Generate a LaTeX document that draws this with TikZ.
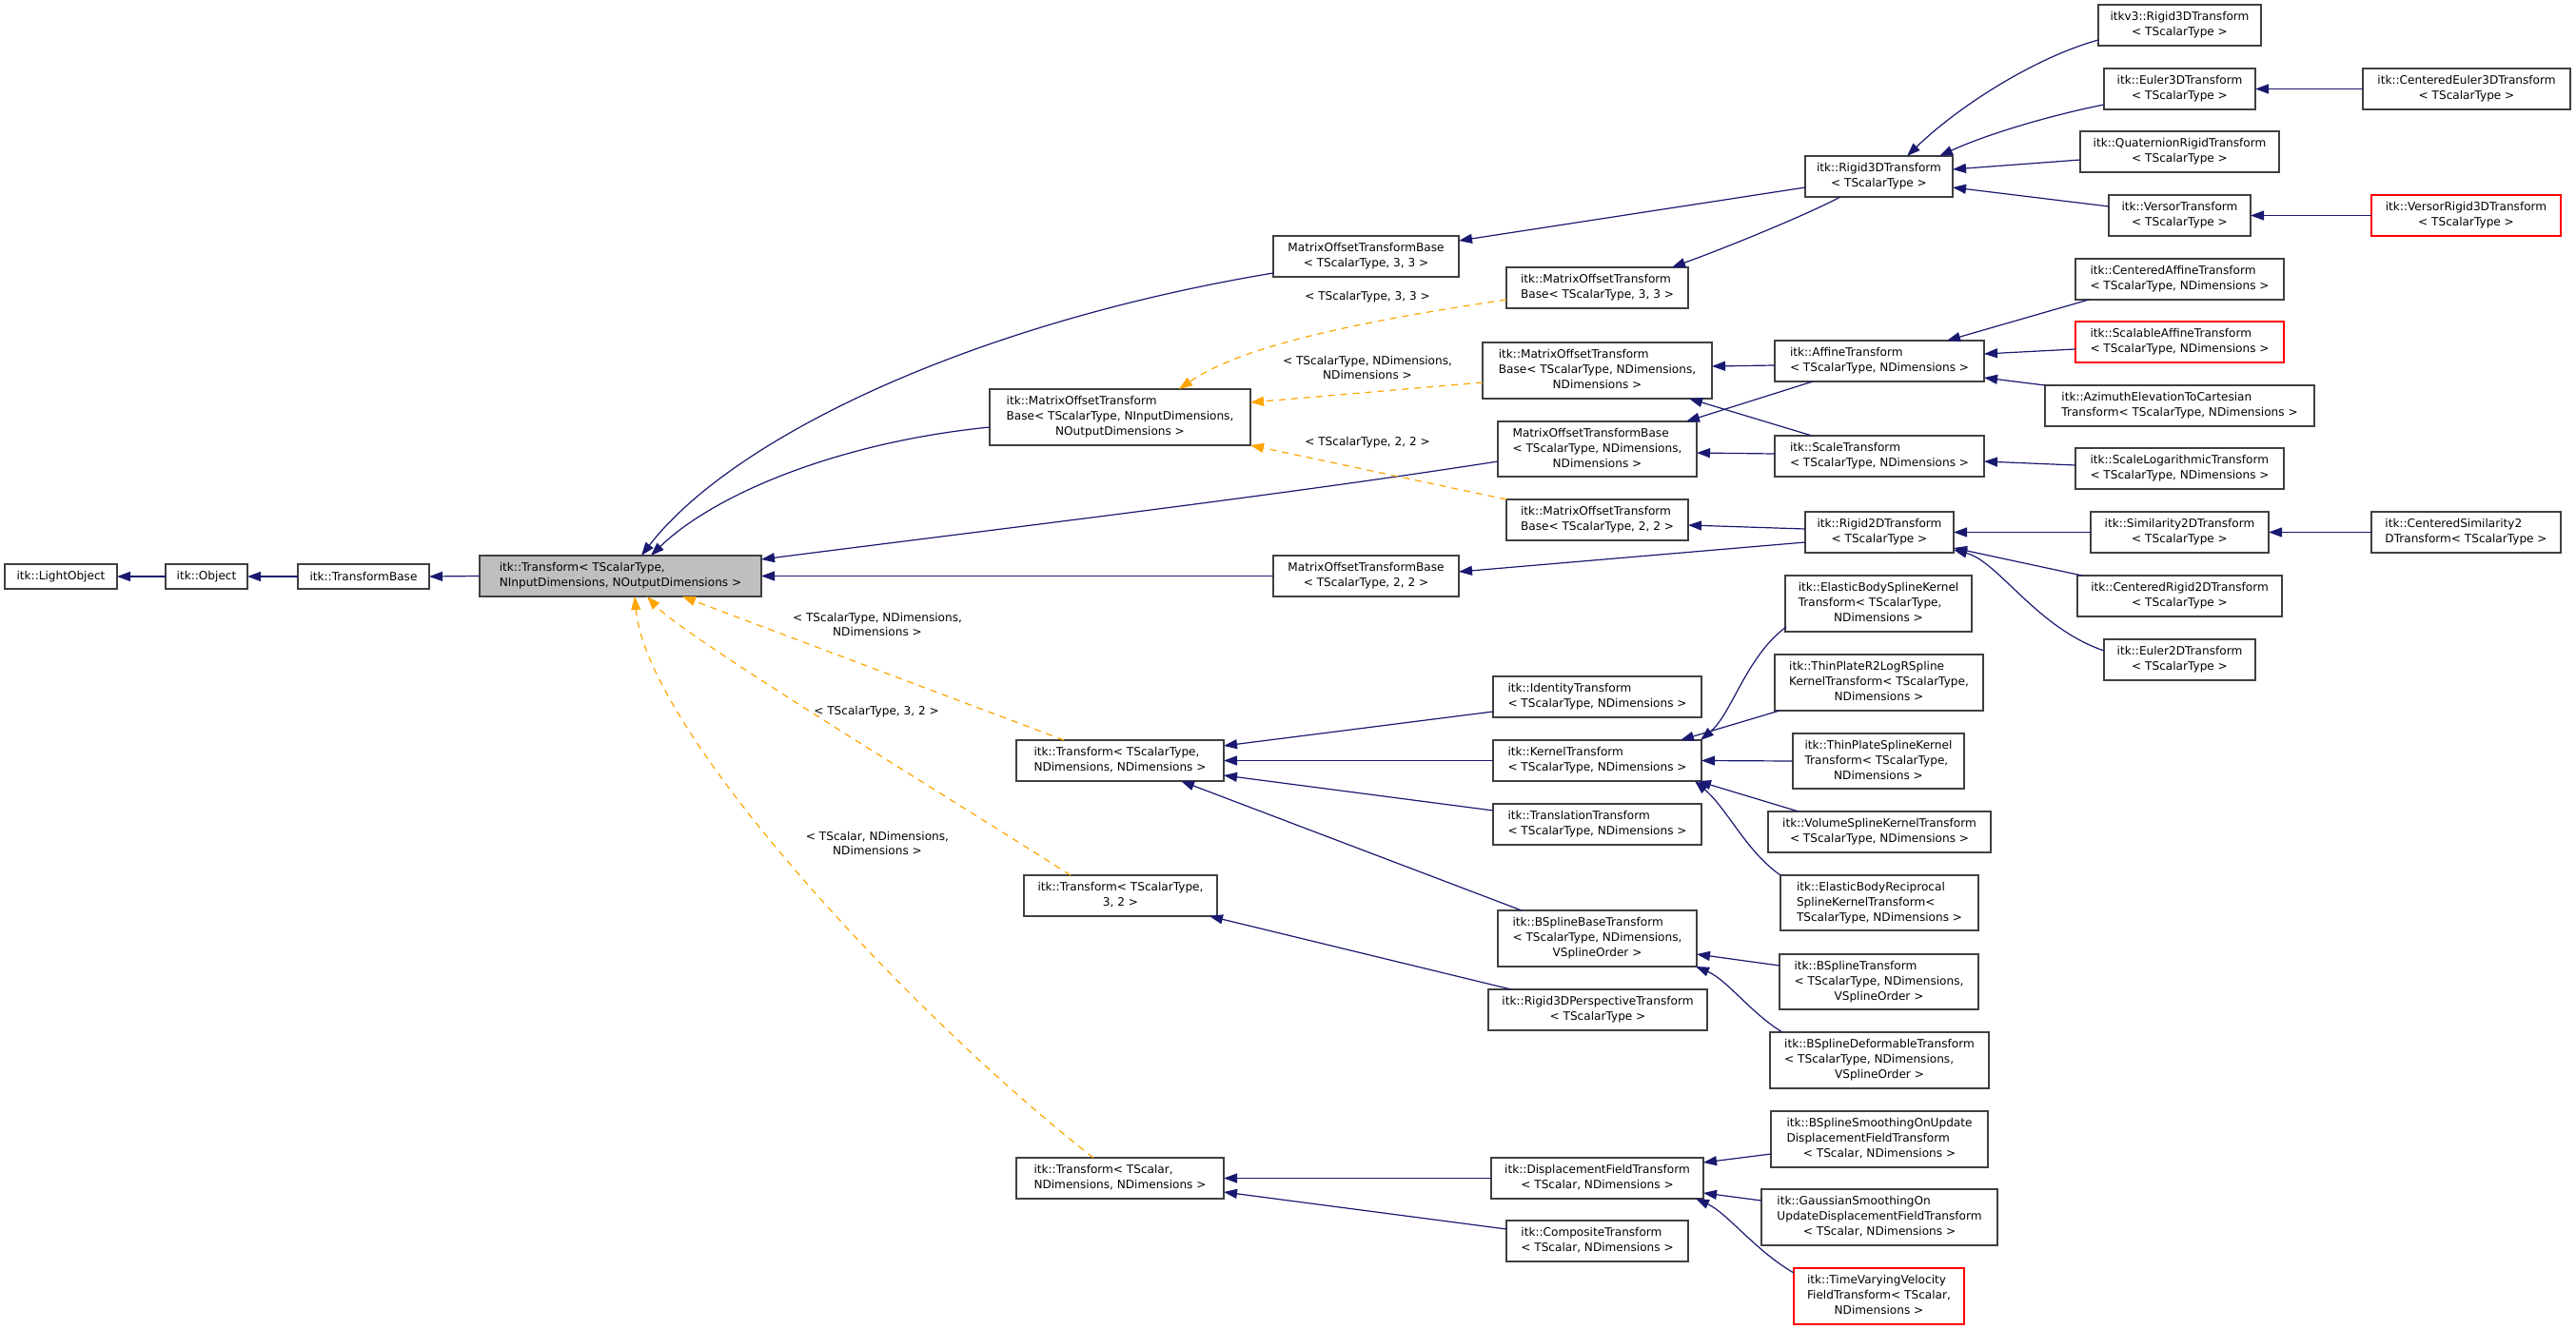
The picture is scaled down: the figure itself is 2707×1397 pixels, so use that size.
\documentclass[tikz,border=0pt]{standalone}
\usepackage{fontspec}
\setmainfont{DejaVu Sans}
\usetikzlibrary{arrows.meta,calc}
\definecolor{navyc}{HTML}{191970}
\definecolor{orangec}{HTML}{FFA500}
\definecolor{grayfill}{HTML}{BFBFBF}
\definecolor{bordc}{HTML}{404040}
\definecolor{redc}{HTML}{FF0000}
\newcommand\nlII[2]{\begin{tabular}{@{}l@{}}#1\\\multicolumn{1}{@{}c@{}}{#2}\end{tabular}}
\newcommand\nlIII[3]{\begin{tabular}{@{}l@{}}#1\\#2\\\multicolumn{1}{@{}c@{}}{#3}\end{tabular}}
\tikzset{
  box/.style={draw=bordc, line width=1.3pt, fill=white, inner sep=0pt, outer sep=0pt,
    anchor=north west, font=\fontsize{12.1}{16}\selectfont},
  redbox/.style={box, draw=redc},
  inh/.style={draw=navyc, line width=1.2pt, -{Triangle[length=14pt,width=10pt]}},
  tmpl/.style={draw=orangec, line width=1.2pt, dash pattern=on 7pt off 6pt, -{Triangle[length=14pt,width=10pt]}},
  lbl/.style={align=center, inner sep=0pt, font=\fontsize{12.1}{15.5}\selectfont},
}
\begin{document}
\begin{tikzpicture}[x=1pt,y=-1pt]
\useasboundingbox (0,0) rectangle (2707,1397);
% nodes
\node[box,minimum width=118pt,minimum height=26pt] (lo) at (5,593) {itk::LightObject};
\node[box,minimum width=86pt,minimum height=26pt] (obj) at (174,593) {itk::Object};
\node[box,minimum width=138pt,minimum height=26pt] (tb) at (313,593) {itk::TransformBase};
\node[box,fill=grayfill,minimum width=296pt,minimum height=43pt] (tr) at (504,584) {\nlII{itk::Transform< TScalarType,}{NInputDimensions, NOutputDimensions >}};
\node[box,minimum width=195pt,minimum height=43pt] (mo33) at (1338,248) {\nlII{MatrixOffsetTransformBase}{< TScalarType, 3, 3 >}};
\node[box,minimum width=274pt,minimum height=59pt] (monin) at (1040,409) {\nlIII{itk::MatrixOffsetTransform}{Base< TScalarType, NInputDimensions,}{NOutputDimensions >}};
\node[box,minimum width=191pt,minimum height=43pt] (imo33) at (1583,281) {\nlII{itk::MatrixOffsetTransform}{Base< TScalarType, 3, 3 >}};
\node[box,minimum width=241pt,minimum height=59pt] (imond) at (1558,360) {\nlIII{itk::MatrixOffsetTransform}{Base< TScalarType, NDimensions,}{NDimensions >}};
\node[box,minimum width=209pt,minimum height=58pt] (mond) at (1574,443) {\nlIII{MatrixOffsetTransformBase}{< TScalarType, NDimensions,}{NDimensions >}};
\node[box,minimum width=191pt,minimum height=43pt] (imo22) at (1583,525) {\nlII{itk::MatrixOffsetTransform}{Base< TScalarType, 2, 2 >}};
\node[box,minimum width=195pt,minimum height=43pt] (mo22) at (1338,584) {\nlII{MatrixOffsetTransformBase}{< TScalarType, 2, 2 >}};
\node[box,minimum width=155pt,minimum height=43pt] (r3) at (1897,164) {\nlII{itk::Rigid3DTransform}{< TScalarType >}};
\node[box,minimum width=171pt,minimum height=43pt] (v3r3) at (2205,5) {\nlII{itkv3::Rigid3DTransform}{< TScalarType >}};
\node[box,minimum width=159pt,minimum height=43pt] (e3) at (2211,72) {\nlII{itk::Euler3DTransform}{< TScalarType >}};
\node[box,minimum width=218pt,minimum height=43pt] (ce3) at (2483,72) {\nlII{itk::CenteredEuler3DTransform}{< TScalarType >}};
\node[box,minimum width=209pt,minimum height=43pt] (q) at (2186,138) {\nlII{itk::QuaternionRigidTransform}{< TScalarType >}};
\node[box,minimum width=149pt,minimum height=43pt] (vt) at (2216,205) {\nlII{itk::VersorTransform}{< TScalarType >}};
\node[redbox,minimum width=199pt,minimum height=43pt] (vr3) at (2492,205) {\nlII{itk::VersorRigid3DTransform}{< TScalarType >}};
\node[box,minimum width=219pt,minimum height=43pt] (ca) at (2181,272) {\nlII{itk::CenteredAffineTransform}{< TScalarType, NDimensions >}};
\node[box,minimum width=220pt,minimum height=43pt] (af) at (1865,358) {\nlII{itk::AffineTransform}{< TScalarType, NDimensions >}};
\node[redbox,minimum width=219pt,minimum height=43pt] (sa) at (2181,338) {\nlII{itk::ScalableAffineTransform}{< TScalarType, NDimensions >}};
\node[box,minimum width=283pt,minimum height=43pt] (az) at (2149,405) {\nlII{itk::AzimuthElevationToCartesian}{Transform< TScalarType, NDimensions >}};
\node[box,minimum width=220pt,minimum height=43pt] (sc) at (1865,458) {\nlII{itk::ScaleTransform}{< TScalarType, NDimensions >}};
\node[box,minimum width=219pt,minimum height=43pt] (sl) at (2181,471) {\nlII{itk::ScaleLogarithmicTransform}{< TScalarType, NDimensions >}};
\node[box,minimum width=156pt,minimum height=43pt] (r2) at (1897,538) {\nlII{itk::Rigid2DTransform}{< TScalarType >}};
\node[box,minimum width=187pt,minimum height=43pt] (s2) at (2197,538) {\nlII{itk::Similarity2DTransform}{< TScalarType >}};
\node[box,minimum width=199pt,minimum height=43pt] (cs2) at (2492,538) {\nlII{itk::CenteredSimilarity2}{DTransform< TScalarType >}};
\node[box,minimum width=215pt,minimum height=43pt] (cr2) at (2183,605) {\nlII{itk::CenteredRigid2DTransform}{< TScalarType >}};
\node[box,minimum width=159pt,minimum height=43pt] (e2) at (2211,672) {\nlII{itk::Euler2DTransform}{< TScalarType >}};
\node[box,minimum width=196pt,minimum height=59pt] (ebs) at (1876,605) {\nlIII{itk::ElasticBodySplineKernel}{Transform< TScalarType,}{NDimensions >}};
\node[box,minimum width=219pt,minimum height=59pt] (tpr) at (1865,688) {\nlIII{itk::ThinPlateR2LogRSpline}{KernelTransform< TScalarType,}{NDimensions >}};
\node[box,minimum width=180pt,minimum height=58pt] (tps) at (1884,771) {\nlIII{itk::ThinPlateSplineKernel}{Transform< TScalarType,}{NDimensions >}};
\node[box,minimum width=234pt,minimum height=43pt] (vs) at (1858,853) {\nlII{itk::VolumeSplineKernelTransform}{< TScalarType, NDimensions >}};
\node[box,minimum width=208pt,minimum height=58pt] (ebr) at (1871,920) {\nlIII{itk::ElasticBodyReciprocal}{SplineKernelTransform<}{TScalarType, NDimensions >}};
\node[box,minimum width=219pt,minimum height=43pt] (id) at (1569,711) {\nlII{itk::IdentityTransform}{< TScalarType, NDimensions >}};
\node[box,minimum width=219pt,minimum height=43pt] (kt) at (1569,778) {\nlII{itk::KernelTransform}{< TScalarType, NDimensions >}};
\node[box,minimum width=219pt,minimum height=43pt] (tt) at (1569,845) {\nlII{itk::TranslationTransform}{< TScalarType, NDimensions >}};
\node[box,minimum width=218pt,minimum height=43pt] (tnd) at (1068,778) {\nlII{itk::Transform< TScalarType,}{NDimensions, NDimensions >}};
\node[box,minimum width=203pt,minimum height=43pt] (t32) at (1076,920) {\nlII{itk::Transform< TScalarType,}{3, 2 >}};
\node[box,minimum width=209pt,minimum height=59pt] (bsb) at (1574,957) {\nlIII{itk::BSplineBaseTransform}{< TScalarType, NDimensions,}{VSplineOrder >}};
\node[box,minimum width=230pt,minimum height=43pt] (r3p) at (1564,1040) {\nlII{itk::Rigid3DPerspectiveTransform}{< TScalarType >}};
\node[box,minimum width=209pt,minimum height=58pt] (bst) at (1870,1003) {\nlIII{itk::BSplineTransform}{< TScalarType, NDimensions,}{VSplineOrder >}};
\node[box,minimum width=230pt,minimum height=59pt] (bsd) at (1860,1085) {\nlIII{itk::BSplineDeformableTransform}{< TScalarType, NDimensions,}{VSplineOrder >}};
\node[box,minimum width=228pt,minimum height=59pt] (bss) at (1861,1168) {\nlIII{itk::BSplineSmoothingOnUpdate}{DisplacementFieldTransform}{< TScalar, NDimensions >}};
\node[box,minimum width=248pt,minimum height=59pt] (gs) at (1851,1250) {\nlIII{itk::GaussianSmoothingOn}{UpdateDisplacementFieldTransform}{< TScalar, NDimensions >}};
\node[redbox,minimum width=179pt,minimum height=59pt] (tv) at (1885,1333) {\nlIII{itk::TimeVaryingVelocity}{FieldTransform< TScalar,}{NDimensions >}};
\node[box,minimum width=223pt,minimum height=43pt] (df) at (1567,1217) {\nlII{itk::DisplacementFieldTransform}{< TScalar, NDimensions >}};
\node[box,minimum width=191pt,minimum height=43pt] (ct) at (1583,1283) {\nlII{itk::CompositeTransform}{< TScalar, NDimensions >}};
\node[box,minimum width=218pt,minimum height=43pt] (ts) at (1068,1217) {\nlII{itk::Transform< TScalar,}{NDimensions, NDimensions >}};
% labels
\node[lbl] (l1) at (1437,312) {< TScalarType, 3, 3 >};
\node[lbl] (l2) at (1437,386.5) {< TScalarType, NDimensions,\\NDimensions >};
\node[lbl] (l3) at (1437,465) {< TScalarType, 2, 2 >};
\node[lbl] (l4) at (922,656.5) {< TScalarType, NDimensions,\\NDimensions >};
\node[lbl] (l5) at (921,748) {< TScalarType, 3, 2 >};
\node[lbl] (l6) at (922,886.5) {< TScalar, NDimensions,\\NDimensions >};
% left chain
\draw[inh] (obj.west) -- (lo.east);
\draw[inh] (tb.west) -- (obj.east);
\draw[inh] (tr.west) -- (tb.east);
% Transform parents
\draw[inh] ($(mo33.north west)+(0,39)$) .. controls (1020,340) and (770,460) .. ($(tr.north west)+(170,0)$);
\draw[inh] ($(monin.north west)+(0,40)$) .. controls (880,465) and (750,520) .. ($(tr.north west)+(180,0)$);
\draw[inh] ($(mond.north west)+(0,42)$) .. controls (1350,520) and (1050,556) .. ($(tr.north east)+(0,4)$);
\draw[inh] (mo22.west) -- (tr.east);
% template edges
\draw[tmpl] ($(imo33.north west)+(0,34)$) .. controls (1450,335) and (1310,360) .. ($(monin.north west)+(199,0)$);
\draw[tmpl] ($(imond.north west)+(0,42)$) -- ($(monin.north west)+(274,14)$);
\draw[tmpl] (imo22.north west) -- (monin.south east);
\draw[tmpl] ($(tnd.north west)+(50,0)$) -- ($(tr.south west)+(213,0)$);
\draw[tmpl] ($(t32.north west)+(49,0)$) .. controls (1000,840) and (720,670) .. ($(tr.south west)+(176,0)$);
\draw[tmpl] ($(ts.north west)+(81,0)$) .. controls (960,1070) and (680,770) .. ($(tr.south west)+(163,0)$);
% Rigid3D
\draw[inh] ($(r3.north west)+(0,33)$) -- ($(mo33.north east)+(0,5)$);
\draw[inh] ($(r3.south west)+(37,0)$) .. controls (1900,225) and (1820,258) .. ($(imo33.north east)+(-17,0)$);
\draw[inh] ($(v3r3.north west)+(0,37)$) .. controls (2140,60) and (2060,110) .. ($(r3.north west)+(107,0)$);
\draw[inh] ($(e3.north west)+(0,38)$) .. controls (2160,120) and (2090,140) .. ($(r3.north west)+(141,0)$);
\draw[inh] ($(q.north west)+(0,30)$) -- ($(r3.north east)+(0,14)$);
\draw[inh] ($(vt.north west)+(0,12)$) -- ($(r3.north east)+(0,33)$);
\draw[inh] (ce3.west) -- (e3.east);
\draw[inh] (vr3.west) -- (vt.east);
% Affine / Scale
\draw[inh] ($(ca.south west)+(14,0)$) -- ($(af.north west)+(181,0)$);
\draw[inh] ($(sa.north west)+(0,29)$) -- ($(af.north east)+(0,14)$);
\draw[inh] (az.north west) -- ($(af.north east)+(0,39)$);
\draw[inh] ($(af.north west)+(0,26)$) -- ($(imond.north east)+(0,25)$);
\draw[inh] ($(af.south west)+(40,0)$) -- ($(mond.north east)+(-11,0)$);
\draw[inh] ($(sc.north west)+(39,0)$) -- ($(imond.south east)+(-24,0)$);
\draw[inh] ($(sc.north west)+(0,19)$) -- ($(mond.north east)+(0,33)$);
\draw[inh] ($(sl.north west)+(0,18)$) -- ($(sc.north east)+(0,27)$);
% Rigid2D
\draw[inh] ($(r2.north west)+(0,18)$) -- ($(imo22.north east)+(0,27)$);
\draw[inh] ($(r2.north west)+(0,32)$) -- ($(mo22.north east)+(0,17)$);
\draw[inh] (s2.west) -- (r2.east);
\draw[inh] (cs2.west) -- (s2.east);
\draw[inh] ($(cr2.north west)+(5,0)$) -- ($(r2.north east)+(0,38)$);
\draw[inh] ($(e2.north west)+(0,12)$) .. controls (2140,660) and (2100,590) .. ($(r2.north east)+(0,40)$);
% Transform<NDim>
\draw[inh] ($(id.north west)+(0,37)$) -- ($(tnd.north east)+(0,6)$);
\draw[inh] (kt.west) -- (tnd.east);
\draw[inh] ($(tt.north west)+(0,7)$) -- ($(tnd.north east)+(0,37)$);
\draw[inh] ($(bsb.north west)+(25,0)$) -- ($(tnd.south west)+(173,0)$);
% Kernel
\draw[inh] ($(ebs.north west)+(1,54)$) .. controls (1835,690) and (1820,750) .. ($(kt.north west)+(218,0)$);
\draw[inh] ($(tpr.north west)+(5,59)$) -- ($(kt.north west)+(197,0)$);
\draw[inh] (tps.west) -- (kt.east);
\draw[inh] ($(vs.north west)+(32,0)$) -- ($(kt.south east)+(-4,0)$);
\draw[inh] (ebr.north west) .. controls (1835,895) and (1815,850) .. ($(kt.south east)+(-7,0)$);
% BSpline
\draw[inh] ($(r3p.north west)+(24,0)$) -- ($(t32.south west)+(195,0)$);
\draw[inh] ($(bst.north west)+(0,12)$) -- ($(bsb.north east)+(0,46)$);
\draw[inh] ($(bsd.north west)+(13,0)$) .. controls (1840,1065) and (1815,1030) .. ($(bsb.south east)+(-1,0)$);
% Displacement
\draw[inh] (df.west) -- (ts.east);
\draw[inh] ($(ct.north west)+(0,9)$) -- ($(ts.north east)+(0,36)$);
\draw[inh] ($(bss.north west)+(0,45)$) -- ($(df.north east)+(0,5)$);
\draw[inh] ($(gs.north west)+(0,12)$) -- ($(df.north east)+(0,37)$);
\draw[inh] ($(tv.north west)+(0,5)$) .. controls (1845,1315) and (1815,1275) .. ($(df.south east)+(-8,0)$);
\end{tikzpicture}
\end{document}
